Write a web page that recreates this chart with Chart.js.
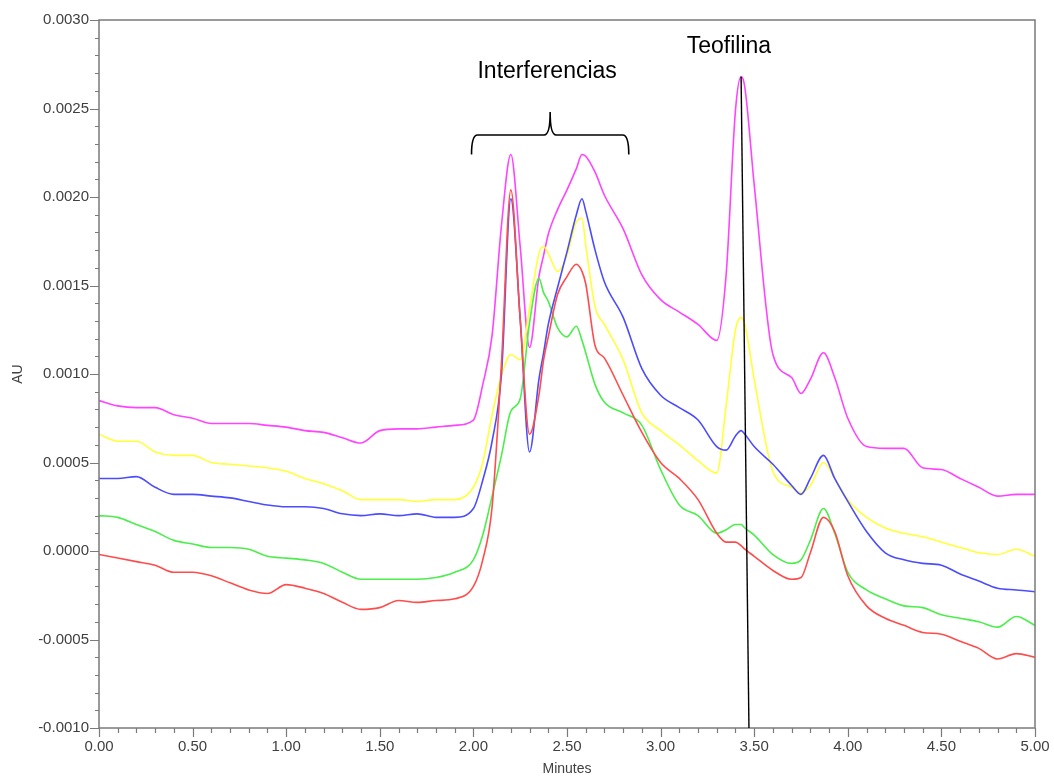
<!DOCTYPE html>
<html>
<head>
<meta charset="utf-8">
<script src="https://cdn.jsdelivr.net/npm/chart.js@4.4.0/dist/chart.umd.min.js"></script>
<style>
    html, body { margin: 0; padding: 0; background: #ffffff; }
</style>
</head>
<body>
<canvas id="chart" width="1054" height="778"></canvas>
<script>
// tiempos (min)
const minutes = [0, 0.1, 0.2, 0.3, 0.4, 0.5, 0.6, 0.7, 0.8, 0.9, 1.0, 1.1, 1.2, 1.3, 1.4, 1.5, 1.6, 1.7, 1.8, 1.9, 2.0,
    2.05, 2.1, 2.15, 2.2, 2.25, 2.3, 2.35,
    2.375, 2.4, 2.45, 2.5, 2.55, 2.58, 2.6, 2.65, 2.7,
    2.8, 2.9, 3.0, 3.1, 3.2, 3.3,
    3.35, 3.4, 3.43, 3.45, 3.5,
    3.6, 3.7, 3.75, 3.8, 3.87, 3.93, 4.0,
    4.1, 4.2, 4.3, 4.4, 4.5, 4.6, 4.7, 4.8, 4.9, 5.0];

// absorbancia (AU) de cada cromatograma
const magentaAU = [0.00085, 0.00082, 0.00081, 0.00081, 0.00077, 0.00075, 0.00072, 0.00072, 0.00072, 0.00071, 0.00070, 0.00068, 0.00067, 0.00064, 0.00061, 0.00068, 0.00069, 0.00069, 0.00070, 0.00071, 0.00074,
    0.00094, 0.00122, 0.00184, 0.00224, 0.00172, 0.00115, 0.00155,
    0.00167, 0.00179, 0.00193, 0.00204, 0.00216, 0.00224, 0.00223, 0.00214, 0.00201,
    0.00182, 0.00156, 0.00142, 0.00135, 0.00128, 0.00119,
    0.00156, 0.00249, 0.00268, 0.00262, 0.00207,
    0.00111, 0.00098, 0.00089, 0.00097, 0.00112, 0.00098, 0.00075,
    0.00059, 0.00058, 0.00058, 0.00047, 0.00046, 0.00041, 0.00036, 0.00031, 0.00032, 0.00032];

const yellowAU = [0.00066, 0.00062, 0.00062, 0.00056, 0.00054, 0.00054, 0.00050, 0.00049, 0.00048, 0.00047, 0.00045, 0.00041, 0.00038, 0.00034, 0.00029, 0.00029, 0.00029, 0.00028, 0.00029, 0.00029, 0.00036,
    0.00050, 0.00077, 0.00099, 0.00111, 0.00108, 0.00137, 0.00168,
    0.00172, 0.00168, 0.00158, 0.00167, 0.00186, 0.00188, 0.00173, 0.00138, 0.00128,
    0.00108, 0.00078, 0.00068, 0.00060, 0.00051, 0.00044,
    0.00082, 0.00125, 0.00132, 0.00128, 0.00097,
    0.00045, 0.00036, 0.00033, 0.00037, 0.00050, 0.00041, 0.00029,
    0.00019, 0.00013, 0.00010, 0.00008, 0.00005, 0.00002, -0.00001, -0.00002, 0.00001, -0.00003];

const blueAU = [0.00041, 0.00041, 0.00042, 0.00036, 0.00032, 0.00032, 0.00031, 0.00030, 0.00028, 0.00026, 0.00025, 0.00025, 0.00024, 0.00021, 0.00020, 0.00021, 0.00020, 0.00021, 0.00019, 0.00019, 0.00024,
    0.00040, 0.00062, 0.00100, 0.00199, 0.00131, 0.00056, 0.00097,
    0.00112, 0.00128, 0.00149, 0.00169, 0.00190, 0.00199, 0.00192, 0.00170, 0.00152,
    0.00132, 0.00103, 0.00088, 0.00081, 0.00074, 0.00059,
    0.00057, 0.00065, 0.00068, 0.00066, 0.00059,
    0.00049, 0.00037, 0.00032, 0.00041, 0.00054, 0.00041, 0.00028,
    0.00011, -0.00001, -0.00005, -0.00007, -0.00008, -0.00013, -0.00017, -0.00021, -0.00022, -0.00023];

const greenAU = [0.00020, 0.00019, 0.00015, 0.00011, 0.00006, 0.00004, 0.00002, 0.00002, 0.00001, -0.00003, -0.00004, -0.00005, -0.00007, -0.00012, -0.00016, -0.00016, -0.00016, -0.00016, -0.00015, -0.00012, -0.00005,
    0.00009, 0.00031, 0.00054, 0.00079, 0.00086, 0.00129, 0.00154,
    0.00146, 0.00141, 0.00126, 0.00121, 0.00127, 0.00119, 0.00112, 0.00094, 0.00084,
    0.00078, 0.00071, 0.00046, 0.00026, 0.00020, 0.00010,
    0.00012, 0.00015, 0.00015, 0.00013, 0.00009,
    -0.00002, -0.00007, -0.00005, 0.00006, 0.00024, 0.00010, -0.00012,
    -0.00022, -0.00027, -0.00031, -0.00032, -0.00036, -0.00038, -0.00040, -0.00043, -0.00037, -0.00042];

const redAU = [-0.00002, -0.00004, -0.00006, -0.00008, -0.00012, -0.00012, -0.00014, -0.00018, -0.00022, -0.00024, -0.00019, -0.00021, -0.00024, -0.00029, -0.00033, -0.00032, -0.00028, -0.00029, -0.00028, -0.00027, -0.00020,
    -0.00005, 0.00025, 0.00106, 0.00204, 0.00131, 0.00066, 0.00088,
    0.00108, 0.00121, 0.00145, 0.00155, 0.00162, 0.00158, 0.00151, 0.00116, 0.00109,
    0.00088, 0.00067, 0.00050, 0.00041, 0.00029, 0.00010,
    0.00005, 0.00005, 0.00003, 0.00001, -0.00003,
    -0.00011, -0.00016, -0.00015, -0.00001, 0.00019, 0.00011, -0.00014,
    -0.00031, -0.00038, -0.00042, -0.00046, -0.00047, -0.00051, -0.00055, -0.00061, -0.00058, -0.00060];

// anotaciones (en unidades de los ejes)
const braceLabel = 'Interferencias';
const braceLeft = 1.99;
const braceRight = 2.83;
const braceTip = 2.41;
const braceBottomAU = 0.00224;
const braceBarAU = 0.00235;
const braceTipAU = 0.00248;
const braceLabelAU = 0.00271;

const peakLabel = 'Teofilina';
const peakLabelMin = 3.365;
const peakLabelAU = 0.00285;
const peakLineTop = [3.43, 0.00268];
const peakLineBottom = [3.472, -0.0010];

const AXIS_GREY = '#7a7a7a';
const TEXT_GREY = '#404040';

function toPoints(values) {
    return minutes.map((t, i) => ({ x: t, y: values[i] }));
}

function isMajor(value, step) {
    return Math.abs(Math.round(value / step) * step - value) < step / 100;
}

const frameAndNotes = {
    id: 'frameAndNotes',
    afterDraw(chart) {
        const { ctx, chartArea: a, scales: { x, y } } = chart;
        ctx.save();

        // marco del gráfico
        ctx.strokeStyle = AXIS_GREY;
        ctx.lineWidth = 1.5;
        ctx.strokeRect(a.left, a.top, a.right - a.left, a.bottom - a.top);

        // marcas de los ejes
        ctx.lineWidth = 1.2;
        ctx.beginPath();
        y.ticks.forEach(t => {
            const py = Math.round(y.getPixelForValue(t.value)) + 0.5;
            const len = isMajor(t.value, 0.0005) ? 9 : 4;
            ctx.moveTo(a.left - len, py);
            ctx.lineTo(a.left, py);
        });
        x.ticks.forEach(t => {
            const px = Math.round(x.getPixelForValue(t.value)) + 0.5;
            const len = isMajor(t.value, 0.5) ? 9 : 5;
            ctx.moveTo(px, a.bottom);
            ctx.lineTo(px, a.bottom + len);
        });
        ctx.stroke();

        // llave de las interferencias
        const xl = x.getPixelForValue(braceLeft);
        const xr = x.getPixelForValue(braceRight);
        const xm = x.getPixelForValue(braceTip);
        const yb = y.getPixelForValue(braceBottomAU);
        const yh = y.getPixelForValue(braceBarAU);
        const yt = y.getPixelForValue(braceTipAU);
        const r = 6;
        ctx.strokeStyle = '#000000';
        ctx.lineWidth = 1.6;
        ctx.beginPath();
        ctx.moveTo(xl, yb);
        ctx.quadraticCurveTo(xl, yh, xl + r, yh);
        ctx.lineTo(xm - r, yh);
        ctx.quadraticCurveTo(xm, yh, xm, yt);
        ctx.quadraticCurveTo(xm, yh, xm + r, yh);
        ctx.lineTo(xr - r, yh);
        ctx.quadraticCurveTo(xr, yh, xr, yb);
        ctx.stroke();

        // línea del pico de teofilina
        ctx.lineWidth = 1.4;
        ctx.beginPath();
        ctx.moveTo(x.getPixelForValue(peakLineTop[0]), y.getPixelForValue(peakLineTop[1]));
        ctx.lineTo(x.getPixelForValue(peakLineBottom[0]), y.getPixelForValue(peakLineBottom[1]));
        ctx.stroke();

        // textos
        ctx.fillStyle = '#000000';
        ctx.font = '23px "Liberation Sans", Arial, sans-serif';
        ctx.textAlign = 'center';
        ctx.textBaseline = 'middle';
        ctx.fillText(braceLabel, xm - 3, y.getPixelForValue(braceLabelAU));
        ctx.fillText(peakLabel, x.getPixelForValue(peakLabelMin), y.getPixelForValue(peakLabelAU));

        ctx.restore();
    }
};

const ctx = document.getElementById('chart').getContext('2d');

const chart = new Chart(ctx, {
    type: 'line',
    data: {
        datasets: [
            { label: 'rojo', data: toPoints(redAU), borderColor: '#ff4c4c' },
            { label: 'azul', data: toPoints(blueAU), borderColor: '#4c4cff' },
            { label: 'verde', data: toPoints(greenAU), borderColor: '#4cee4c' },
            { label: 'amarillo', data: toPoints(yellowAU), borderColor: '#ffff3c' },
            { label: 'magenta', data: toPoints(magentaAU), borderColor: '#ff44ff' }
        ]
    },
    options: {
        responsive: false,
        animation: false,
        parsing: false,
        layout: { padding: { top: 20, right: 19, left: 0, bottom: 0 } },
        elements: {
            point: { radius: 0 },
            line: { borderWidth: 1.6, tension: 0.4, cubicInterpolationMode: 'monotone', fill: false }
        },
        plugins: {
            legend: { display: false },
            tooltip: { enabled: false }
        },
        scales: {
            x: {
                type: 'linear',
                min: 0,
                max: 5,
                grid: { display: false, drawTicks: false },
                border: { display: false },
                ticks: {
                    stepSize: 0.1,
                    autoSkip: false,
                    maxRotation: 0,
                    padding: 10,
                    color: TEXT_GREY,
                    font: { family: '"Liberation Sans", Arial, sans-serif', size: 15 },
                    callback: v => isMajor(v, 0.5) ? v.toFixed(2) : ''
                },
                title: {
                    display: true,
                    text: 'Minutes',
                    color: TEXT_GREY,
                    padding: { top: 0, bottom: 0 },
                    font: { family: '"Liberation Sans", Arial, sans-serif', size: 14 }
                },
                afterFit: scale => {
                    scale.height = 50;
                    scale.paddingLeft = 0;
                    scale.paddingRight = 0;
                }
            },
            y: {
                min: -0.001,
                max: 0.003,
                grid: { display: false, drawTicks: false },
                border: { display: false },
                ticks: {
                    stepSize: 0.0001,
                    autoSkip: false,
                    padding: 10,
                    color: TEXT_GREY,
                    font: { family: '"Liberation Sans", Arial, sans-serif', size: 15 },
                    callback: v => isMajor(v, 0.0005) ? v.toFixed(4) : ''
                },
                title: {
                    display: true,
                    text: 'AU',
                    color: TEXT_GREY,
                    padding: { top: 10, bottom: 0 },
                    font: { family: '"Liberation Sans", Arial, sans-serif', size: 14 }
                },
                afterFit: scale => {
                    scale.width = 99;
                    scale.paddingTop = 0;
                    scale.paddingBottom = 0;
                }
            }
        }
    },
    plugins: [frameAndNotes]
});
</script>
</body>
</html>
